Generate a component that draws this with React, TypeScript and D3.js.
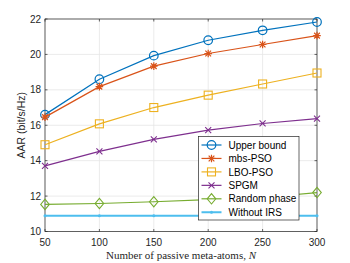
import React from "react";
import * as d3 from "d3";

const N = [50, 100, 150, 200, 250, 300];
const upperBound = [16.6, 18.6, 19.93, 20.8, 21.36, 21.83];
const mbsPSO = [16.46, 18.18, 19.34, 20.05, 20.56, 21.06];
const lboPSO = [14.9, 16.08, 17.0, 17.7, 18.33, 18.95];
const spgm = [13.71, 14.52, 15.2, 15.72, 16.1, 16.37];
const randomPhase = [11.53, 11.58, 11.68, 11.8, 11.92, 12.2];
const withoutIRS = [10.89, 10.89, 10.89, 10.89, 10.89, 10.89];
const xTicks = [50, 100, 150, 200, 250, 300];
const yTicks = [10, 12, 14, 16, 18, 20, 22];

const series = [
  { name: "Upper bound", values: upperBound, color: "#0072BD", marker: "circle" },
  { name: "mbs-PSO", values: mbsPSO, color: "#D95319", marker: "star" },
  { name: "LBO-PSO", values: lboPSO, color: "#EDB120", marker: "square" },
  { name: "SPGM", values: spgm, color: "#7E2F8E", marker: "x" },
  { name: "Random phase", values: randomPhase, color: "#77AC30", marker: "diamond" },
  { name: "Without IRS", values: withoutIRS, color: "#4DBEEE", marker: "dot" },
];

function Marker({ type, x, y, color }: { type: string; x: number; y: number; color: string }) {
  switch (type) {
    case "circle":
      return <circle cx={x} cy={y} r={4.3} fill="none" stroke={color} strokeWidth={1.2} />;
    case "square":
      return <rect x={x - 4} y={y - 4} width={8} height={8} fill="none" stroke={color} strokeWidth={1.1} />;
    case "diamond":
      return (
        <path d={`M${x},${y - 5.2}L${x + 4.3},${y}L${x},${y + 5.2}L${x - 4.3},${y}Z`} fill="none" stroke={color} strokeWidth={1.1} />
      );
    case "x":
      return (
        <path d={`M${x - 3},${y - 3}L${x + 3},${y + 3}M${x - 3},${y + 3}L${x + 3},${y - 3}`} stroke={color} strokeWidth={1.1} />
      );
    case "star": {
      const r = 3.8;
      const r2 = r * 0.75;
      return (
        <path
          d={`M${x - r},${y}L${x + r},${y}M${x},${y - r}L${x},${y + r}M${x - r2},${y - r2}L${x + r2},${y + r2}M${x - r2},${y + r2}L${x + r2},${y - r2}`}
          stroke={color}
          strokeWidth={1.2}
        />
      );
    }
    case "dot":
      return <circle cx={x} cy={y} r={1.5} fill={color} />;
    default:
      return null;
  }
}

export default function App() {
  const W = 350, H = 263;
  const left = 45, right = 317, top = 19, bottom = 231.5;
  const x = d3.scaleLinear().domain([50, 300]).range([left, right]);
  const y = d3.scaleLinear().domain([10, 22]).range([bottom, top]);
  const line = d3.line<number>().x((_, i) => x(N[i])).y((d) => y(d));
  const font = "'Liberation Sans', Arial, sans-serif";
  const legX = 198.5, legY = 136.5, legW = 100.5, legH = 83.5;
  return (
    <svg width={W} height={H} style={{ position: "absolute", left: 0, top: 0, background: "#fff" }}>
      <rect x={0} y={0} width={W} height={H} fill="#fff" />
      {xTicks.map((t) => (
        <line key={"gx" + t} x1={x(t)} x2={x(t)} y1={top} y2={bottom} stroke="#e6e6e6" strokeWidth={0.8} />
      ))}
      {yTicks.map((t) => (
        <line key={"gy" + t} x1={left} x2={right} y1={y(t)} y2={y(t)} stroke="#e6e6e6" strokeWidth={0.8} />
      ))}
      <rect x={left} y={top} width={right - left} height={bottom - top} fill="none" stroke="#262626" strokeWidth={0.7} />
      {xTicks.map((t) => (
        <g key={"tx" + t}>
          <line x1={x(t)} x2={x(t)} y1={bottom} y2={bottom - 2.5} stroke="#262626" strokeWidth={0.7} />
          <line x1={x(t)} x2={x(t)} y1={top} y2={top + 2.5} stroke="#262626" strokeWidth={0.7} />
          <text x={x(t)} y={bottom + 14} textAnchor="middle" fontSize={10} fontFamily={font} fill="#262626">
            {t}
          </text>
        </g>
      ))}
      {yTicks.map((t) => (
        <g key={"ty" + t}>
          <line x1={left} x2={left + 2.5} y1={y(t)} y2={y(t)} stroke="#262626" strokeWidth={0.7} />
          <line x1={right} x2={right - 2.5} y1={y(t)} y2={y(t)} stroke="#262626" strokeWidth={0.7} />
          <text x={left - 4} y={y(t) + 3.5} textAnchor="end" fontSize={10} fontFamily={font} fill="#262626">
            {t}
          </text>
        </g>
      ))}
      {series.map((s) => (
        <g key={s.name}>
          <path d={line(s.values) || ""} fill="none" stroke={s.color} strokeWidth={s.marker === "dot" ? 2 : 1.2} />
          {s.values.map((v, i) => (
            <Marker key={i} type={s.marker} x={x(N[i])} y={y(v)} color={s.color} />
          ))}
        </g>
      ))}
      <text
        transform={`translate(25,${(top + bottom) / 2}) rotate(-90)`}
        textAnchor="middle"
        fontSize={10.5}
        fontFamily={font}
        fill="#262626"
      >
        AAR (bit/s/Hz)
      </text>
      <text x={(left + right) / 2} y={258.5} textAnchor="middle" fontSize={11} fontFamily="'Liberation Serif', 'Times New Roman', serif" fill="#262626">
        Number of passive meta-atoms, <tspan fontStyle="italic">N</tspan>
      </text>
      <rect x={legX} y={legY} width={legW} height={legH} fill="#fff" stroke="#262626" strokeWidth={0.7} />
      {series.map((s, i) => {
        const cy = legY + 8.5 + i * 13.45;
        return (
          <g key={"leg" + s.name}>
            <line x1={legX + 3} x2={legX + 23} y1={cy} y2={cy} stroke={s.color} strokeWidth={s.marker === "dot" ? 2 : 1.2} />
            <Marker type={s.marker} x={legX + 13} y={cy} color={s.color} />
            <text x={legX + 30} y={cy + 3.6} fontSize={10} fontFamily={font} fill="#000">
              {s.name}
            </text>
          </g>
        );
      })}
    </svg>
  );
}
